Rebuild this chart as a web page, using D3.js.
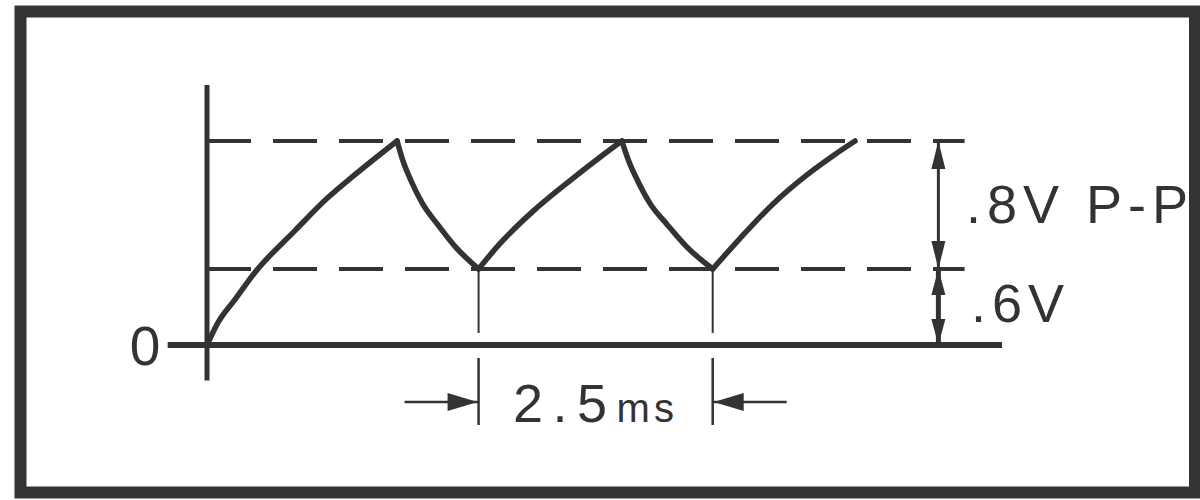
<!DOCTYPE html>
<html>
<head>
<meta charset="utf-8">
<script src="https://cdn.jsdelivr.net/npm/d3@7"></script>
<style>
  body { margin: 0; background: #fff; }
  text { font-family: "Liberation Sans", Arial, sans-serif; fill: #333; }
</style>
</head>
<body>
<div id="chart"></div>
<script>
var svgWidth = 1200;
var svgHeight = 500;
var ink = "#333";

// waveform segments, [time ms, volts]
var charge0 = [[0, 0], [0.12, 0.18], [0.3, 0.36], [0.52, 0.58], [0.94, 0.84],
  [1.28, 1.04], [1.56, 1.18], [2.03, 1.4]];
var discharge1 = [[2.03, 1.4], [2.09, 1.28], [2.18, 1.15], [2.3, 1.01], [2.46, 0.88], [2.65, 0.74], [2.9, 0.6]];
var charge1 = [[2.9, 0.6], [3.13, 0.76], [3.48, 0.96], [3.85, 1.14], [4.2, 1.3], [4.43, 1.4]];
var discharge2 = [[4.43, 1.4], [4.5, 1.28], [4.6, 1.15], [4.73, 1.01], [4.91, 0.88], [5.12, 0.74], [5.4, 0.6]];
var charge2 = [[5.4, 0.6], [5.69, 0.79], [6.05, 1.01], [6.41, 1.19], [6.69, 1.31], [6.92, 1.4]];
var segments = [charge0, discharge1, charge1, discharge2, charge2];

// reference levels (volts) and the period markers (ms)
var levels = [0.6, 1.4];
var troughTimes = [2.9, 5.4];
var periodLabel = ["2.5", "ms"];
var levelLabels = [".8V P-P", ".6V"];
var zeroLabel = "0";

var svg = d3.select("#chart")
  .append("svg")
  .attr("width", svgWidth)
  .attr("height", svgHeight);

// drawing is not to scale: use a piecewise scale for volts
var x = d3.scaleLinear().domain([0, 8.5]).range([207, 1003]);
var y = d3.scaleLinear().domain([0, 0.6, 1.4]).range([345, 269, 141]);

// y axis
svg.append("line")
  .attr("x1", x(0)).attr("x2", x(0))
  .attr("y1", y(-0.28)).attr("y2", y(1.75))
  .attr("stroke", ink).attr("stroke-width", 5);

// zero baseline
svg.append("line")
  .attr("x1", x(-0.42)).attr("x2", x(8.49))
  .attr("y1", y(0)).attr("y2", y(0))
  .attr("stroke", ink).attr("stroke-width", 6);

// dashed level lines
svg.selectAll(".level")
  .data(levels)
  .enter()
  .append("line")
  .attr("class", "level")
  .attr("x1", x(0)).attr("x2", x(8.09))
  .attr("y1", d => y(d)).attr("y2", d => y(d))
  .attr("stroke", ink).attr("stroke-width", 4)
  .attr("stroke-dasharray", "44 22");

// waveform
var line = d3.line()
  .x(d => x(d[0]))
  .y(d => y(d[1]))
  .curve(d3.curveMonotoneX);

svg.selectAll(".wave")
  .data(segments)
  .enter()
  .append("path")
  .attr("class", "wave")
  .attr("d", line)
  .attr("fill", "none")
  .attr("stroke", ink)
  .attr("stroke-width", 5.5)
  .attr("stroke-linejoin", "round")
  .attr("stroke-linecap", "round");

// thin drop lines from the troughs + extension lines below baseline
svg.selectAll(".drop")
  .data(troughTimes)
  .enter()
  .append("line")
  .attr("x1", d => x(d)).attr("x2", d => x(d))
  .attr("y1", y(0.6)).attr("y2", y(0) - 12)
  .attr("stroke", ink).attr("stroke-width", 2);

svg.selectAll(".ext")
  .data(troughTimes)
  .enter()
  .append("line")
  .attr("x1", d => x(d)).attr("x2", d => x(d))
  .attr("y1", y(0) + 13).attr("y2", y(0) + 80)
  .attr("stroke", ink).attr("stroke-width", 2.5);

// arrowhead helper: tip at (tx,ty), pointing along (dx,dy)
function arrow(tx, ty, dx, dy, len, half) {
  var bx = tx - dx * len, by = ty - dy * len;
  var px = -dy * half, py = dx * half;
  return "M" + tx + "," + ty + "L" + (bx + px) + "," + (by + py) + "L" + (bx - px) + "," + (by - py) + "Z";
}

// period dimension arrows
var ay = y(0) + 57;
var xa = x(troughTimes[0]), xb = x(troughTimes[1]);
svg.append("line").attr("x1", xa - 74).attr("x2", xa).attr("y1", ay).attr("y2", ay)
  .attr("stroke", ink).attr("stroke-width", 2.5);
svg.append("line").attr("x1", xb).attr("x2", xb + 74).attr("y1", ay).attr("y2", ay)
  .attr("stroke", ink).attr("stroke-width", 2.5);
svg.append("path").attr("d", arrow(xa - 1, ay, 1, 0, 30, 9)).attr("fill", ink);
svg.append("path").attr("d", arrow(xb + 1, ay, -1, 0, 30, 9)).attr("fill", ink);

var period = svg.append("text")
  .attr("x", 513).attr("y", 422)
  .attr("font-size", 54)
  .attr("letter-spacing", 9.5);
period.append("tspan").text(periodLabel[0]);
period.append("tspan").attr("font-size", 40).attr("letter-spacing", 4).text(periodLabel[1]);

// voltage dimension line on the right
var dx = x(7.81);
svg.append("line").attr("x1", dx).attr("x2", dx).attr("y1", y(1.4)).attr("y2", y(0.6))
  .attr("stroke", ink).attr("stroke-width", 3);
svg.append("line").attr("x1", dx).attr("x2", dx).attr("y1", y(0.6)).attr("y2", y(0))
  .attr("stroke", ink).attr("stroke-width", 5);
[[y(1.4), 1], [y(0.6), -1]].forEach(function(a) {
  svg.append("path").attr("d", arrow(dx, a[0], 0, -a[1], 28, 7)).attr("fill", ink);
});
[[y(0.6), 1], [y(0), -1]].forEach(function(a) {
  svg.append("path").attr("d", arrow(dx, a[0], 0, -a[1], 26, 7)).attr("fill", ink);
});

svg.selectAll(".lvl-label")
  .data(levelLabels)
  .enter()
  .append("text")
  .attr("x", (d, i) => i === 0 ? 966 : 971)
  .attr("y", (d, i) => i === 0 ? 223 : 322)
  .attr("font-size", 54)
  .attr("letter-spacing", 6)
  .text(d => d);

svg.append("text")
  .attr("x", 145).attr("y", 365)
  .attr("text-anchor", "middle")
  .attr("font-size", 55)
  .text(zeroLabel);

// frame
svg.append("rect")
  .attr("x", 20.5).attr("y", 11.5)
  .attr("width", 1174.5).attr("height", 481)
  .attr("fill", "none")
  .attr("stroke", ink)
  .attr("stroke-width", 12);
</script>
</body>
</html>
